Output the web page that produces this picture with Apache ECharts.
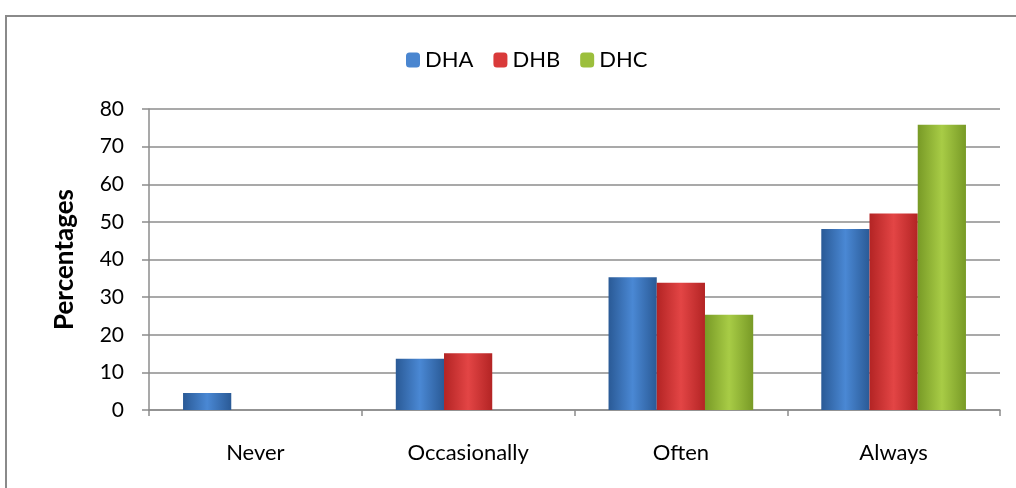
<!DOCTYPE html>
<html>
<head>
<meta charset="utf-8">
<script src="https://cdn.jsdelivr.net/npm/echarts@6/dist/echarts.min.js"></script>
<style>
html,body{margin:0;padding:0;background:#fff;}
#chart{width:1016px;height:488px;}
</style>
</head>
<body>
<div id="chart"></div>
<script>
const categories = ['Never', 'Occasionally', 'Often', 'Always'];
const seriesNames = ['DHA', 'DHB', 'DHC'];
const dha = [4.5, 13.6, 35.3, 48.1];
const dhb = [0, 15.1, 33.8, 52.2];
const dhc = [0, 0, 25.3, 75.8];
const yTicks = [0, 10, 20, 30, 40, 50, 60, 70, 80];

const palettes = [
  ['#2a5a96', '#4a88d4', '#2a5a96', '#4a86d0'],
  ['#b32424', '#e34545', '#b32424', '#d93a3a'],
  ['#789a26', '#a8cc46', '#789a26', '#9cbf3c']
];
function grad(p) {
  return new echarts.graphic.LinearGradient(0, 0, 1, 0, [
    {offset: 0, color: p[0]},
    {offset: 0.5, color: p[1]},
    {offset: 1, color: p[2]}
  ]);
}
const values = [dha, dhb, dhc];
const chart = echarts.init(document.getElementById('chart'), null, {renderer: 'canvas'});
const font = 'Lato, "Open Sans", "Liberation Sans", sans-serif';
chart.setOption({
  animation: false,
  textStyle: {fontFamily: font},
  graphic: [{
    type: 'rect',
    shape: {x: 6, y: 16, width: 1020, height: 480},
    style: {fill: 'none', stroke: '#8a8a8a', lineWidth: 2},
    silent: true
  }],
  legend: {
    top: 44,
    left: 401,
    itemWidth: 14,
    itemHeight: 15,
    itemGap: 20,
    textStyle: {fontSize: 22, color: '#000', fontFamily: font},
    data: seriesNames.map((n, i) => ({name: n, itemStyle: {color: palettes[i][3]}}))
  },
  grid: {left: 149, right: 16, top: 109, bottom: 78, containLabel: false},
  xAxis: {
    type: 'category',
    data: categories,
    axisLine: {lineStyle: {color: '#8c8c8c', width: 1.5}},
    axisTick: {show: true, length: 6, lineStyle: {color: '#8c8c8c', width: 1.5}},
    axisLabel: {fontSize: 22, color: '#000', margin: 32, fontFamily: font}
  },
  yAxis: {
    type: 'value',
    min: yTicks[0],
    max: yTicks[yTicks.length - 1],
    interval: 10,
    name: 'Percentages',
    nameLocation: 'middle',
    nameGap: 71,
    nameRotate: 90,
    nameTextStyle: {fontSize: 26, fontWeight: 'bold', color: '#000', fontFamily: font},
    axisLine: {show: true, lineStyle: {color: '#8c8c8c', width: 1.5}},
    axisTick: {show: true, length: 7, lineStyle: {color: '#8c8c8c', width: 1.5}},
    axisLabel: {fontSize: 21, color: '#000', margin: 25, fontFamily: font},
    splitLine: {lineStyle: {color: '#8c8c8c', width: 1.5}}
  },
  series: seriesNames.map((n, i) => ({
    name: n,
    type: 'bar',
    data: values[i],
    barGap: '0%',
    barCategoryGap: '32%',
    itemStyle: {color: grad(palettes[i]), borderWidth: 0}
  }))
});
</script>
</body>
</html>
